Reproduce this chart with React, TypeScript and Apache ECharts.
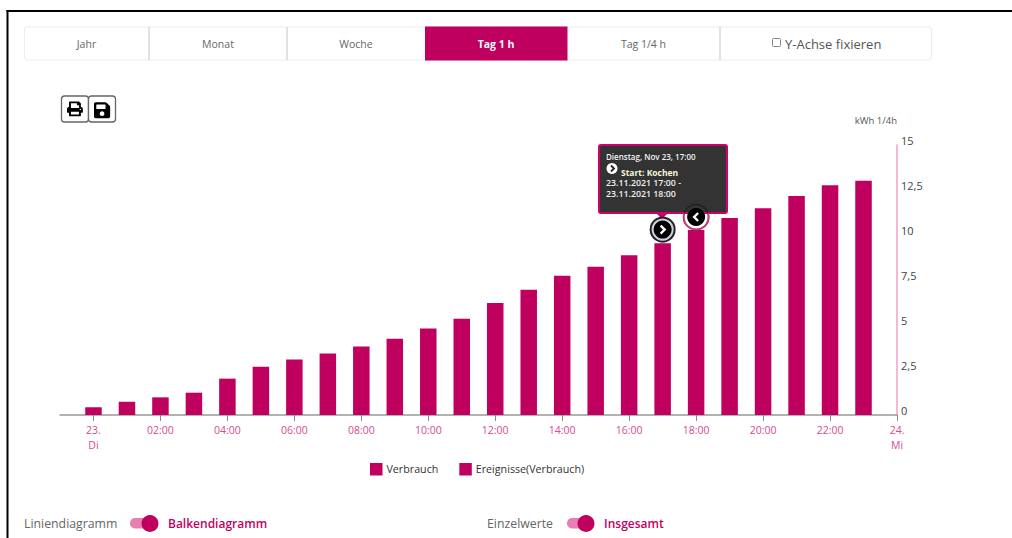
import React, { useEffect, useRef } from "react";
import * as echarts from "echarts";

const PINK = "#bf005f";
const FONT = "'Open Sans', sans-serif";

const hourLabels = ["", "23.\nDi", "01:00", "02:00", "03:00", "04:00", "05:00", "06:00", "07:00", "08:00", "09:00", "10:00", "11:00", "12:00", "13:00", "14:00", "15:00", "16:00", "17:00", "18:00", "19:00", "20:00", "21:00", "22:00", "23:00", "24.\nMi"];
const verbrauch = [null, 0.43, 0.74, 0.98, 1.24, 2.02, 2.68, 3.09, 3.41, 3.81, 4.24, 4.81, 5.35, 6.22, 6.96, 7.74, 8.24, 8.87, 9.54, 10.28, 10.94, 11.48, 12.17, 12.76, 13.02, null];
const eventSlots = [18, 19];
const eventValues = [10.3, 11.0];
const eventKinds = [0, 1];
const yTicks = ["0", "2,5", "5", "7,5", "10", "12,5", "15"];
const tabs = ["Jahr", "Monat", "Woche", "Tag 1 h", "Tag 1/4 h"];
const tabEdges = [24, 149, 287, 425, 567, 720, 932];
const tooltipLines = ["Dienstag, Nov 23, 17:00", "Start: Kochen", "23.11.2021 17:00 -", "23.11.2021 18:00"];

const PRINT_D = "M448 192V77.25c0-8.49-3.37-16.62-9.37-22.63L393.37 9.37c-6-6-14.14-9.37-22.63-9.37H96C78.33 0 64 14.33 64 32v160c-35.35 0-64 28.65-64 64v112c0 8.84 7.16 16 16 16h48v96c0 17.67 14.33 32 32 32h320c17.67 0 32-14.33 32-32v-96h48c8.84 0 16-7.16 16-16V256c0-35.35-28.65-64-64-64zm-64 256H128v-96h256v96zm0-224H128V64h192v48c0 8.84 7.16 16 16 16h48v96zm48 72c-13.25 0-24-10.75-24-24 0-13.26 10.75-24 24-24s24 10.74 24 24c0 13.25-10.75 24-24 24z";
const SAVE_D = "M433.941 129.941l-83.882-83.882A48 48 0 0 0 316.118 32H48C21.49 32 0 53.49 0 80v352c0 26.51 21.49 48 48 48h352c26.51 0 48-21.49 48-48V163.882a48 48 0 0 0-14.059-33.941zM224 416c-35.346 0-64-28.654-64-64 0-35.346 28.654-64 64-64s64 28.654 64 64c0 35.346-28.654 64-64 64zm96-304.52V212c0 6.627-5.373 12-12 12H76c-6.627 0-12-5.373-12-12V108c0-6.627 5.373-12 12-12h228.52c3.183 0 6.235 1.264 8.485 3.515l3.48 3.48A11.996 11.996 0 0 1 320 111.48z";

const txt = (text: string, x: number, y: number, o: any = {}) => ({
  type: "text",
  z: o.z ?? 5,
  style: { text, x, y, fontFamily: FONT, fontSize: o.size ?? 11, fontWeight: o.weight ?? 400, fill: o.fill ?? "#555", textAlign: o.align ?? "left", textVerticalAlign: "middle" },
});

function chrome(): any[] {
  const g: any[] = [];
  // screenshot frame
  g.push({ type: "line", shape: { x1: 7.5, y1: 10, x2: 7.5, y2: 538 }, style: { stroke: "#000", lineWidth: 2 } });
  g.push({ type: "line", shape: { x1: 6.5, y1: 11, x2: 1012, y2: 11 }, style: { stroke: "#000", lineWidth: 2 } });
  // tab bar
  g.push({ type: "rect", shape: { x: 24.5, y: 27, width: 907, height: 33, r: 3 }, style: { fill: "#fff", stroke: "#ececec", lineWidth: 1 } });
  [149, 287, 720].forEach((x) => g.push({ type: "line", shape: { x1: x, y1: 27, x2: x, y2: 60 }, style: { stroke: "#d8d8d8", lineWidth: 1.5 } }));
  g.push({ type: "rect", shape: { x: 425, y: 26.5, width: 142.5, height: 34 }, style: { fill: PINK } });
  tabs.forEach((t, i) => {
    const cx = (tabEdges[i] + tabEdges[i + 1]) / 2;
    g.push(txt(t, cx, 44, { size: 10.5, align: "center", fill: i === 3 ? "#fff" : "#666", weight: i === 3 ? 700 : 500 }));
  });
  g.push({ type: "rect", shape: { x: 772.5, y: 38.5, width: 8, height: 8, r: 1 }, style: { fill: "#fff", stroke: "#888", lineWidth: 1 } });
  g.push(txt("Y-Achse fixieren", 785, 44, { size: 13, fill: "#555", weight: 500 }));
  // buttons
  [61.5, 88.5].forEach((x) => g.push({ type: "rect", shape: { x, y: 96, width: 27, height: 26, r: 3 }, style: { fill: "#fff", stroke: "#666", lineWidth: 1.3 } }));
  g.push({ type: "printIcon", x: 67, y: 101.5, scaleX: 16 / 512, scaleY: 15 / 512, z: 6, style: { fill: "#000" } });
  g.push({ type: "saveIcon", x: 94, y: 101, scaleX: 16 / 448, scaleY: 16 / 448, z: 6, style: { fill: "#000" } });
  // toggles
  [[130, 150], [567, 586]].forEach(([x, k]) => {
    g.push({ type: "rect", shape: { x, y: 518, width: 20, height: 10.5, r: 5 }, style: { fill: "#e77fb0" } });
    g.push({ type: "circle", z: 6, shape: { cx: k, cy: 523.5, r: 8.5 }, style: { fill: PINK } });
  });
  g.push(txt("Liniendiagramm", 24, 523, { size: 12.3, fill: "#666" }));
  g.push(txt("Balkendiagramm", 168, 523, { size: 12, fill: PINK, weight: 600 }));
  g.push(txt("Einzelwerte", 487, 523, { size: 12.3, fill: "#666" }));
  g.push(txt("Insgesamt", 604, 523, { size: 12, fill: PINK, weight: 600 }));
  // event tooltip
  g.push({ type: "polygon", z: 3, shape: { points: [[655, 212], [669, 212], [662, 219]] }, style: { fill: "#d0006a" } });
  g.push({ type: "rect", z: 3, shape: { x: 599, y: 145, width: 128, height: 68, r: 2 }, style: { fill: "#333", stroke: "#d0006a", lineWidth: 2 } });
  g.push(txt(tooltipLines[0], 606, 156, { size: 8, fill: "#f2f2f2", weight: 600 }));
  g.push({ type: "circle", z: 5, shape: { cx: 612, cy: 168.5, r: 5.5 }, style: { fill: "#fff" } });
  g.push({ type: "polyline", z: 6, shape: { points: [[611, 165.5], [614, 168.5], [611, 171.5]] }, style: { stroke: "#222", lineWidth: 1.8, fill: "none" } });
  g.push(txt(tooltipLines[1], 621, 172, { size: 8.5, fill: "#f7f7d8", weight: 700 }));
  g.push(txt(tooltipLines[2], 606, 183, { size: 8.8, fill: "#f2f2f2", weight: 600 }));
  g.push(txt(tooltipLines[3], 606, 194, { size: 8.8, fill: "#f2f2f2", weight: 600 }));
  return g;
}

const renderEvent = (params: any, api: any) => {
  const [cx, cy] = api.coord([api.value(0), api.value(1)]);
  const right = api.value(2) === 0;
  const d = right ? -2 : 2;
  const rings = right
    ? [{ type: "circle", shape: { cx, cy, r: 12 }, style: { fill: "#cfd3e0", stroke: "#222", lineWidth: 2 } }]
    : [
        { type: "circle", shape: { cx, cy, r: 12.5 }, style: { fill: "transparent", stroke: "#222", lineWidth: 1.5 } },
        { type: "arc", shape: { cx, cy, r: 12.5, startAngle: -0.3, endAngle: Math.PI + 0.3, clockwise: true }, style: { fill: "none", stroke: "#d0357f", lineWidth: 1.8 } },
      ];
  return {
    type: "group",
    children: [
      ...rings,
      { type: "circle", shape: { cx, cy, r: 9 }, style: { fill: "#000" } },
      { type: "polyline", shape: { points: [[cx + d, cy - 4], [cx - d, cy], [cx + d, cy + 4]] }, style: { stroke: "#fff", lineWidth: 2.4, fill: "none" } },
    ],
  };
};

export default function App() {
  const ref = useRef<HTMLDivElement>(null);
  useEffect(() => {
    document.body.style.margin = "0";
    document.body.style.overflow = "hidden";
    echarts.graphic.registerShape("printIcon", echarts.graphic.extendPath(PRINT_D, {}));
    echarts.graphic.registerShape("saveIcon", echarts.graphic.extendPath(SAVE_D, {}));
    const chart = echarts.init(ref.current!, undefined, { renderer: "svg" });
    chart.setOption({
      animation: false,
      backgroundColor: "#fff",
      textStyle: { fontFamily: FONT },
      grid: { left: 60, right: 115, top: 145, bottom: 123, containLabel: false },
      legend: {
        left: 370, top: 463, padding: 0, itemWidth: 12.5, itemHeight: 12.5, itemGap: 21, icon: "rect",
        textStyle: { fontFamily: FONT, fontSize: 10.7, color: "#333", padding: [0, 0, 0, -1] },
        data: ["Verbrauch", "Ereignisse(Verbrauch)"],
      },
      xAxis: {
        type: "category",
        boundaryGap: false,
        data: hourLabels,
        axisLine: { lineStyle: { color: "#999", width: 1.5 } },
        axisTick: { length: 6, lineStyle: { color: "#888", width: 1 }, interval: (i: number) => i % 2 === 1 || i === hourLabels.length - 1 },
        axisLabel: {
          color: "#d64a92", fontFamily: FONT, fontSize: 10.5, lineHeight: 15, margin: 7, showMaxLabel: true, hideOverlap: false,
          interval: (i: number) => i % 2 === 1 || i === hourLabels.length - 1,
        },
      },
      yAxis: {
        type: "value", position: "right", min: 0, max: 15, interval: 2.5,
        name: "kWh 1/4h",
        nameLocation: "end",
        nameGap: 20,
        nameTextStyle: { color: "#555", fontFamily: FONT, fontSize: 9.5, align: "right" },
        splitLine: { show: false },
        axisTick: { show: false },
        axisLine: { show: true, lineStyle: { color: "#f4a0c6", width: 1.5 } },
        axisLabel: {
          color: "#444", fontFamily: FONT, fontSize: 11, fontWeight: 500, margin: 4, verticalAlign: "bottom", lineHeight: 9,
          formatter: (v: number) => yTicks[Math.round(v / 2.5)],
        },
      },
      graphic: { elements: chrome() },
      series: [
        { name: "Verbrauch", type: "bar", data: verbrauch, barWidth: 16.5, itemStyle: { color: PINK } },
        {
          name: "Ereignisse(Verbrauch)", type: "custom", z: 10, itemStyle: { color: PINK },
          encode: { x: 0, y: 1 }, renderItem: renderEvent,
          data: eventSlots.map((s, i) => [s, eventValues[i], eventKinds[i]]),
        },
      ],
    });
    return () => chart.dispose();
  }, []);
  return <div ref={ref} style={{ position: "absolute", left: 0, top: 0, width: 1012, height: 538 }} />;
}
